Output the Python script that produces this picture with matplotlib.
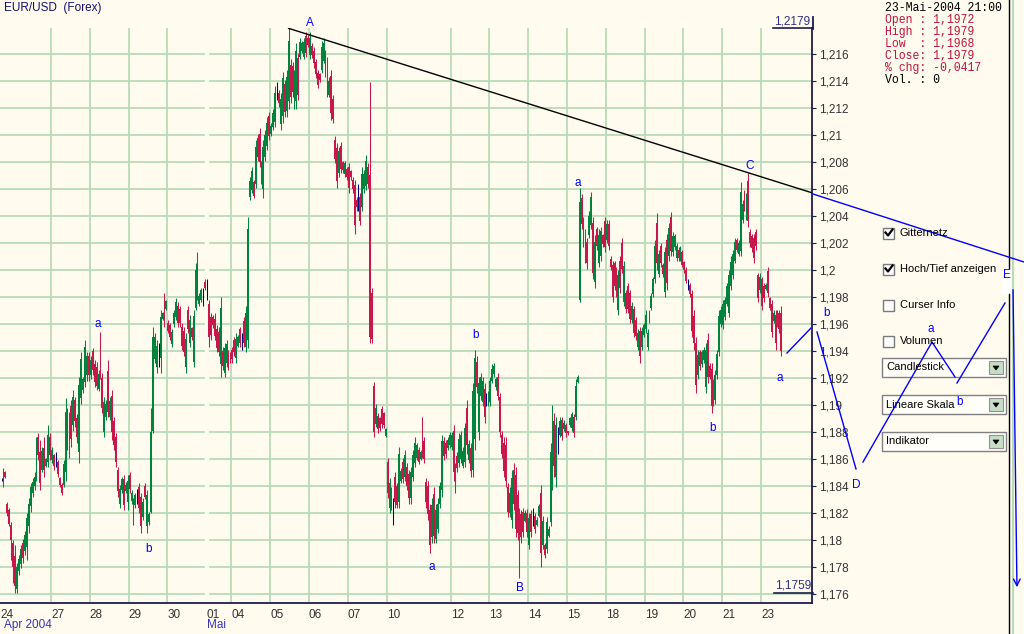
import numpy as np
import matplotlib
matplotlib.use("Agg")
import matplotlib.pyplot as plt
from matplotlib.patches import Rectangle, Polygon

plt.rcParams['font.family'] = ['Liberation Sans', 'DejaVu Sans']

# ---- data: hourly EUR/USD bars, prices in pips above 1.1700 ----
day_labels = ['24', '27', '28', '29', '30', '01', '04', '05', '06', '07',
              '10', '12', '13', '14', '15', '18', '19', '20', '21', '23']
day_bars = [26, 20, 20, 20, 20, 13, 20, 20, 20, 20,
            33, 20, 20, 20, 20, 20, 20, 20, 20, 11]

bar_open = [
    # 24
    145, 143, 150, 127, 122, 111, 98, 88, 64, 77, 82, 98, 92, 95, 110, 125, 135, 140, 147, 176, 165, 152, 168, 155, 158, 176,
    # 27
    159, 163, 159, 158, 146, 141, 141, 150, 195, 165, 199, 185, 204, 190, 165, 205, 211, 217, 222, 236,
    # 28
    222, 240, 230, 228, 212, 246, 220, 180, 191, 225, 191, 207, 188, 176, 152, 127, 137, 145, 136, 128,
    # 29
    148, 129, 129, 126, 132, 139, 132, 117, 140, 110, 113, 121, 181, 234, 228, 237, 235, 264, 278, 271,
    # 30
    261, 259, 245, 260, 265, 273, 271, 258, 255, 228, 270, 246, 257, 232, 272, 306, 275, 278, 280, 291,
    # 01
    286, 275, 265, 265, 264, 256, 254, 230, 240, 224, 231, 238, 237,
    # 04
    241, 248, 235, 244, 256, 247, 262, 243, 248, 354, 359, 365, 364, 398, 401, 367, 360, 384, 392, 414,
    # 05
    401, 406, 410, 432, 431, 408, 414, 438, 418, 425, 452, 451, 423, 425, 457, 458, 462, 458, 473, 472,
    # 06
    459, 466, 462, 454, 446, 445, 448, 455, 460, 454, 430, 444, 427, 396, 390, 372, 392, 380, 371, 375,
    # 07
    376, 373, 367, 363, 352, 350, 354, 347, 360, 362, 376, 370, 283, 214, 186, 192, 190, 197, 194, 177,
    # 10
    158, 124, 137, 120, 147, 140, 128, 144, 158, 147, 154, 149, 131, 147, 157, 161, 167, 160, 185, 173,
    143, 140, 122, 102, 134, 101, 108, 127, 137, 173, 172, 168, 170,
    # 12
    169, 181, 138, 162, 157, 160, 155, 158, 198, 159, 168, 152, 175, 232, 180, 207, 202, 212, 204, 201,
    # 13
    202, 218, 223, 213, 221, 206, 178, 172, 170, 139, 120, 115, 152, 148, 133, 100, 119, 121, 114, 120,
    # 14
    96, 119, 117, 118, 111, 118, 135, 96, 96, 93, 103, 113, 145, 188, 147, 174, 178, 189, 182, 185,
    # 15
    181, 185, 183, 191, 191, 217, 278, 353, 320, 308, 321, 326, 333, 335, 291, 330, 305, 310, 326, 336,
    # 18
    322, 334, 308, 304, 305, 300, 270, 307, 320, 276, 283, 288, 283, 263, 271, 263, 243, 255, 243, 252,
    # 19
    256, 243, 262, 272, 282, 293, 335, 297, 318, 304, 284, 322, 310, 339, 313, 317, 309, 315, 309, 313,
    # 20
    306, 300, 289, 289, 282, 266, 246, 222, 239, 230, 233, 213, 248, 229, 227, 201, 204, 222, 239, 260,
    # 21
    259, 265, 275, 268, 288, 296, 307, 322, 312, 314, 337, 357, 340, 366, 328, 325, 324, 328, 296, 285,
    # 23
    293, 288, 286, 299, 279, 275, 262, 267, 260, 268, 268,
]
bar_high = [
    146, 153, 151, 128, 124, 113, 100, 96, 83, 89, 96, 101, 107, 120, 131, 142, 146, 150, 176, 179, 174, 169, 176, 161, 185, 179,
    169, 164, 165, 159, 147, 142, 159, 205, 198, 195, 204, 211, 206, 193, 221, 239, 221, 248, 239, 239,
    236, 242, 233, 232, 226, 254, 224, 206, 204, 233, 206, 211, 191, 179, 154, 141, 147, 148, 143, 148,
    150, 137, 131, 135, 138, 142, 135, 131, 142, 137, 121, 198, 258, 253, 248, 246, 270, 269, 283, 278,
    263, 261, 256, 270, 279, 276, 273, 261, 258, 253, 273, 267, 258, 270, 305, 313, 283, 287, 287, 293,
    293, 278, 268, 267, 268, 259, 258, 280, 243, 246, 248, 241, 239,
    243, 250, 253, 252, 258, 253, 265, 273, 339, 369, 376, 367, 396, 401, 405, 381, 396, 404, 413, 417,
    409, 419, 436, 439, 433, 431, 447, 441, 448, 479, 456, 454, 448, 468, 461, 472, 470, 472, 476, 474,
    476, 468, 465, 456, 448, 446, 470, 472, 463, 458, 443, 448, 430, 399, 394, 391, 395, 381, 381, 376,
    379, 374, 369, 367, 354, 364, 357, 376, 374, 385, 379, 439, 287, 217, 201, 194, 191, 199, 195, 183,
    161, 146, 139, 131, 150, 142, 169, 153, 161, 167, 157, 152, 154, 167, 176, 172, 169, 167, 191, 176,
    146, 144, 127, 131, 139, 127, 131, 143, 178, 176, 174, 176, 180,
    180, 185, 157, 165, 179, 181, 169, 187, 204, 174, 172, 216, 241, 236, 221, 224, 221, 216, 209, 210,
    221, 230, 231, 221, 224, 209, 181, 176, 176, 142, 139, 152, 157, 154, 137, 124, 122, 124, 122, 123,
    120, 122, 124, 120, 117, 127, 141, 118, 98, 117, 110, 172, 200, 194, 191, 184, 191, 191, 189, 187,
    181, 191, 195, 193, 219, 222, 361, 356, 339, 330, 324, 344, 358, 339, 326, 332, 330, 332, 327, 339,
    337, 337, 310, 307, 307, 302, 300, 310, 324, 307, 285, 290, 285, 276, 273, 265, 256, 258, 258, 261,
    270, 256, 270, 283, 295, 322, 342, 315, 320, 305, 317, 327, 335, 343, 328, 327, 320, 317, 318, 315,
    307, 302, 293, 290, 285, 270, 250, 241, 241, 241, 243, 246, 253, 231, 231, 219, 226, 241, 270, 273,
    278, 280, 290, 300, 310, 315, 324, 324, 322, 365, 352, 359, 357, 372, 330, 327, 327, 330, 298, 298,
    295, 290, 290, 302, 280, 278, 270, 270, 270, 270, 273,
]
bar_low = [
    144, 139, 146, 118, 110, 85, 68, 61, 61, 74, 79, 83, 89, 85, 105, 121, 132, 137, 144, 159, 137, 150, 147, 154, 154, 159,
    157, 152, 154, 147, 139, 133, 139, 144, 167, 161, 169, 181, 184, 172, 157, 201, 209, 213, 218, 218,
    219, 222, 213, 211, 210, 219, 194, 176, 189, 191, 189, 174, 167, 154, 132, 124, 135, 122, 135, 122,
    135, 127, 111, 124, 127, 120, 105, 115, 130, 105, 111, 120, 179, 231, 224, 228, 224, 263, 258, 270,
    253, 248, 243, 258, 263, 258, 258, 241, 236, 224, 253, 243, 248, 228, 270, 278, 273, 276, 273, 285,
    278, 243, 248, 257, 248, 239, 236, 221, 226, 221, 228, 226, 231,
    231, 236, 231, 243, 243, 241, 243, 239, 242, 352, 357, 353, 361, 381, 376, 364, 353, 381, 389, 396,
    399, 404, 406, 426, 421, 404, 409, 413, 413, 419, 424, 428, 419, 419, 426, 456, 461, 456, 458, 465,
    456, 457, 450, 442, 435, 439, 446, 453, 443, 428, 428, 411, 409, 379, 361, 369, 372, 372, 369, 367,
    357, 367, 357, 327, 344, 344, 333, 344, 357, 359, 361, 246, 246, 176, 184, 179, 181, 183, 183, 176,
    131, 120, 122, 111, 124, 124, 124, 142, 142, 144, 137, 127, 127, 144, 154, 159, 156, 159, 161, 157,
    124, 115, 90, 98, 98, 98, 105, 124, 132, 159, 161, 167, 168,
    167, 144, 135, 150, 154, 157, 153, 154, 164, 157, 147, 147, 167, 209, 174, 204, 199, 187, 199, 199,
    199, 216, 221, 211, 204, 176, 161, 147, 139, 117, 117, 109, 122, 102, 100, 72, 98, 102, 113, 102,
    93, 102, 110, 105, 110, 117, 80, 93, 87, 90, 102, 110, 137, 147, 139, 164, 176, 174, 181, 176,
    178, 184, 181, 176, 189, 216, 276, 330, 317, 305, 301, 324, 330, 293, 287, 315, 302, 307, 317, 313,
    320, 315, 300, 276, 285, 280, 267, 283, 298, 273, 268, 268, 261, 261, 250, 248, 241, 231, 241, 250,
    253, 241, 261, 270, 280, 290, 300, 295, 302, 295, 280, 285, 307, 310, 310, 315, 307, 307, 307, 302,
    298, 290, 285, 280, 250, 241, 209, 219, 226, 228, 231, 209, 216, 219, 194, 199, 201, 219, 236, 258,
    256, 263, 273, 265, 285, 293, 305, 313, 310, 310, 335, 344, 337, 332, 317, 313, 305, 315, 276, 283,
    270, 276, 285, 280, 270, 250, 261, 241, 258, 253, 236,
]
bar_close = [
    145, 150, 147, 120, 112, 100, 80, 66, 80, 86, 93, 87, 104, 116, 127, 139, 143, 147, 170, 163, 142, 166, 152, 160, 178, 163,
    167, 155, 159, 149, 141, 135, 156, 195, 172, 190, 175, 206, 188, 176, 215, 234, 219, 243, 236, 222,
    233, 226, 217, 214, 223, 224, 198, 202, 201, 195, 203, 180, 170, 158, 136, 138, 145, 126, 141, 144,
    138, 135, 114, 133, 132, 124, 110, 128, 132, 133, 119, 180, 250, 250, 244, 237, 265, 268, 262, 277,
    255, 250, 254, 268, 276, 261, 261, 244, 239, 249, 256, 263, 250, 266, 300, 283, 281, 285, 280, 287,
    286, 250, 252, 259, 251, 242, 239, 272, 229, 242, 245, 229, 233,
    234, 239, 249, 250, 246, 247, 246, 268, 330, 366, 373, 355, 391, 384, 380, 378, 391, 400, 409, 399,
    407, 416, 431, 432, 424, 427, 442, 417, 443, 470, 428, 432, 444, 462, 430, 469, 468, 469, 461, 467,
    472, 459, 453, 445, 437, 441, 465, 468, 446, 433, 440, 416, 412, 382, 366, 388, 375, 374, 379, 369,
    361, 369, 360, 333, 347, 350, 336, 371, 371, 381, 364, 250, 249, 180, 198, 182, 183, 186, 185, 182,
    135, 142, 125, 120, 128, 126, 164, 151, 145, 163, 140, 131, 150, 163, 172, 170, 158, 165, 165, 160,
    128, 119, 96, 126, 103, 122, 127, 140, 173, 162, 164, 174, 178,
    178, 150, 153, 153, 175, 178, 166, 183, 170, 171, 151, 210, 235, 213, 216, 221, 218, 191, 204, 208,
    218, 227, 229, 219, 207, 180, 164, 151, 144, 121, 135, 146, 127, 108, 105, 120, 102, 106, 120, 106,
    116, 106, 117, 108, 115, 125, 90, 114, 89, 113, 108, 165, 194, 155, 185, 174, 188, 177, 187, 179,
    179, 190, 193, 179, 214, 221, 350, 334, 335, 326, 305, 340, 354, 298, 321, 318, 326, 329, 319, 317,
    334, 318, 302, 280, 288, 283, 296, 287, 301, 303, 271, 271, 264, 273, 253, 251, 253, 236, 255, 259,
    267, 253, 268, 281, 293, 318, 305, 312, 305, 297, 313, 290, 331, 314, 325, 325, 318, 309, 316, 304,
    300, 292, 289, 282, 255, 246, 215, 237, 229, 239, 241, 241, 221, 221, 199, 216, 222, 238, 266, 270,
    275, 278, 288, 296, 306, 312, 321, 315, 320, 358, 349, 347, 354, 336, 320, 316, 309, 318, 279, 295,
    273, 279, 289, 283, 272, 254, 268, 246, 267, 256, 240,
]

info_lines = ["23-Mai-2004 21:00", "Open : 1,1972", "High : 1,1979", "Low  : 1,1968",
              "Close: 1,1979", "% chg: -0,0417", "Vol. : 0"]
wave_inside = [("A", 159.0, 1.2183), ("a", 49.7, 1.1960), ("b", 76.0, 1.17933),
               ("a", 221.9, 1.1780), ("b", 244.6, 1.19519), ("B", 267.3, 1.17644),
               ("a", 297.2, 1.20644), ("b", 366.7, 1.1883), ("C", 385.8, 1.2077),
               ("a", 401.3, 1.1920)]

# ---- styles ----
BG = '#FFFBEE'
GRID = '#B8DBB8'
GREEN = '#00843D'
RED = '#C8174B'
NAVY = '#000080'
AXC = '#1C1C50'
BLUE = '#0000FF'
W, H = 1024, 634

fig = plt.figure(figsize=(W / 100, H / 100), dpi=100)
fig.patch.set_facecolor(BG)
ax = fig.add_axes([0, 31 / H, 812 / W, 575 / H])
ax.set_facecolor(BG)

base = 1.17
o = base + np.array(bar_open) / 1e4
h = base + np.array(bar_high) / 1e4
l = base + np.array(bar_low) / 1e4
c = base + np.array(bar_close) / 1e4
idx = np.arange(len(o))
cols = np.where(c > o, GREEN, np.where(c < o, RED, NAVY))

# thin wick, thick body
ax.vlines(idx, l, h, colors=cols, lw=0.75, zorder=3)
body_lo = np.minimum(o, c)
body_hi = np.maximum(o, c)
ax.bar(idx, body_hi - body_lo, bottom=body_lo, width=0.95, color=cols,
       edgecolor='none', antialiased=False, zorder=3)

ax.set_xlim(-0.79, 417.8)
ax.set_ylim(1.175333, 1.217926)

# grid
starts = np.concatenate([[0], np.cumsum(day_bars)[:-1]]) - 0.5
for s, lab in zip(starts[1:], day_labels[1:]):
    if lab == '01':
        ax.axvspan(s - 0.8, s + 0.8, color=BG, zorder=1)
    else:
        ax.axvline(s, color=GRID, lw=1.3, zorder=0.5)
yt = np.round(np.arange(1.176, 1.2161, 0.002), 3)
for v in yt:
    ax.axhline(v, color=GRID, lw=1.3, zorder=0)

# trend line from A through C
iA = int(np.argmax(h))
last = slice(int(starts[-2] + 0.5), int(starts[-1] + 0.5))
iC = int(np.argmax(h[last])) + int(starts[-2] + 0.5)
slope = (h[iC] - h[iA]) / (iC - iA)
xr = 417.8
ax.plot([iA, xr], [h[iA], h[iA] + slope * (xr - iA)], color='black', lw=1.0, zorder=4)

for txt, xi, yv in wave_inside:
    ax.text(xi, yv, txt, color=BLUE, fontsize=8.5, ha='center', va='center', clip_on=False, zorder=5)

# axes styling
for sp in ['left', 'top']:
    ax.spines[sp].set_visible(False)
for sp in ['right', 'bottom']:
    ax.spines[sp].set_color(AXC)
    ax.spines[sp].set_linewidth(1.3)
ax.yaxis.tick_right()
ax.set_yticks(yt)
ax.set_yticklabels([("%.3f" % v).rstrip('0').replace('.', ',') for v in yt])
ax.tick_params(axis='y', direction='out', length=3, color=AXC, labelcolor='#333333',
               labelsize=8.5, pad=2)
ax.set_xticks(starts)
ax.set_xticklabels(day_labels, ha='left')
ax.tick_params(axis='x', length=0, labelcolor='#333333', labelsize=8.5, pad=4)

# ---- overlay in pixel coordinates ----
ov = fig.add_axes([0, 0, 1, 1], zorder=10)
ov.set_xlim(0, W)
ov.set_ylim(H, 0)
ov.axis('off')
ov.patch.set_alpha(0)

ov.text(4, 8, "EUR/USD  (Forex)", color='#101070', fontsize=8.5, va='center')
ov.text(4, 625, "Apr 2004", color='#3535C0', fontsize=8.5, va='center')
ov.text(207, 625, "Mai", color='#3535C0', fontsize=8.5, va='center')

ov.text(774, 21, "1,2179", color='#303080', fontsize=8.5, va='center')
ov.plot([773, 813], [28, 28], color=AXC, lw=1.2)
ov.plot([813, 813], [17, 29], color=AXC, lw=1.3)
ov.text(775, 586, "1,1759", color='#303080', fontsize=8.5, va='center')
ov.plot([774, 813], [593, 593], color=AXC, lw=1.2)

# info box
for k, line in enumerate(info_lines):
    colr = 'black' if k in (0, 6) else '#C0143C'
    ov.text(885, 8 + 12 * k, line, color=colr, fontsize=8.3, va='center',
            family=['Liberation Mono', 'DejaVu Sans Mono'])

ov.plot([1009, 1009], [0, 268], color='black', lw=1)
ov.plot([1009, 1009], [294, H], color='black', lw=1)
ov.plot([1013, 1013], [0, H], color=GRID, lw=1.5)

# checkboxes
for yc, lab, chk in [(233, "Gitternetz", True), (269, "Hoch/Tief anzeigen", True),
                     (305, "Curser Info", False), (341, "Volumen", False)]:
    ov.add_patch(Rectangle((883, yc - 5.5), 11, 11, facecolor='white', edgecolor='#7A7A7A', lw=1))
    if chk:
        ov.plot([885.5, 888, 892.5], [yc - 0.5, yc + 2.5, yc - 3.5], color='black', lw=1.6)
    ov.text(900, yc, lab, fontsize=8, va='center', color='black')

# dropdowns
for yt0, lab in [(358, "Candlestick"), (395, "Lineare Skala"), (432, "Indikator")]:
    ov.add_patch(Rectangle((882, yt0), 124, 19, facecolor='#FFFEF8', edgecolor='#808080', lw=1))
    ov.add_patch(Rectangle((989, yt0 + 3), 14, 13, facecolor='#C6DEC6', edgecolor='#909090', lw=0.8))
    ov.add_patch(Polygon([(993, yt0 + 8), (999, yt0 + 8), (996, yt0 + 12)], closed=True,
                         facecolor='black', edgecolor='black', lw=0.5))
    ov.text(886, yt0 + 9.5, lab, fontsize=8, va='center', color='black')

# projected wave lines
ov.plot([813, 1024], [194, 262], color=BLUE, lw=1)
for seg in [[(787, 353), (811, 328)], [(817, 332), (856, 469)],
            [(863, 462), (932, 342), (955, 377)], [(957, 383), (1005, 303)]]:
    xs, ys = zip(*seg)
    ov.plot(xs, ys, color=BLUE, lw=1)
ov.annotate("", xy=(1017, 590), xytext=(1013, 287),
            arrowprops=dict(arrowstyle='->', color=BLUE, lw=1, mutation_scale=12))
ov.add_patch(Rectangle((1002, 267), 10, 27, facecolor='white', edgecolor='none'))
for txt, xp, yp in [("b", 827, 313), ("D", 856, 485), ("a", 931, 329),
                    ("b", 960, 402), ("E", 1007, 275)]:
    ov.text(xp, yp, txt, color=BLUE, fontsize=8.5, ha='center', va='center')

fig.savefig("out.png", dpi=100, facecolor=BG)
